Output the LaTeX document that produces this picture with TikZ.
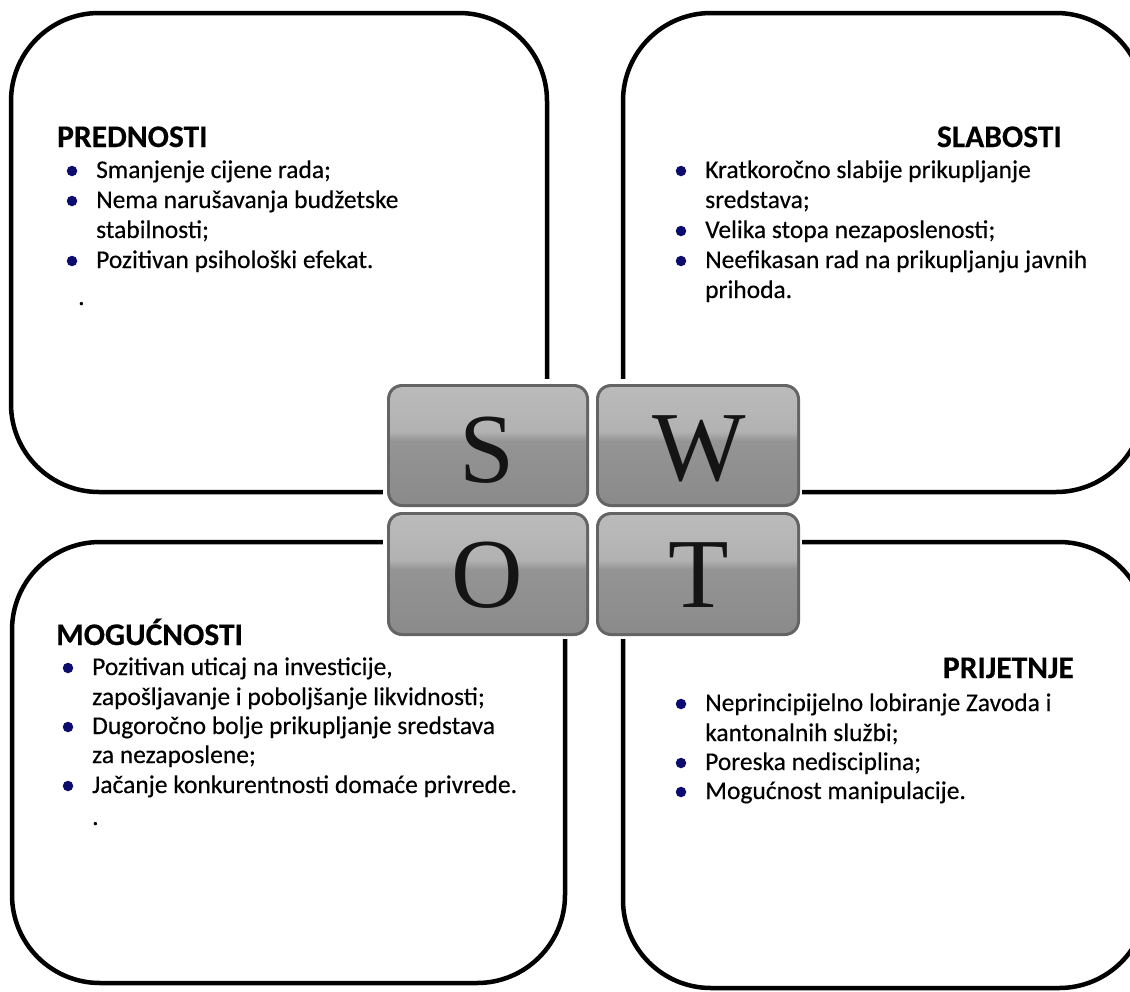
\documentclass[tikz,border=0pt]{standalone}
\usepackage{fontspec}
\newfontfamily\calfont{Carlito}[FakeBold=0.35]
\newfontfamily\calbold{Carlito Bold}[FakeBold=0.3]
\newfontfamily\serifletter{Liberation Serif}
\definecolor{bulletblue}{RGB}{12,12,110}
\definecolor{tileborder}{RGB}{100,100,100}
\definecolor{tbot}{RGB}{172,172,172}
\definecolor{tlow}{RGB}{132,132,132}
\definecolor{tmidlow}{RGB}{148,148,148}
\definecolor{tmidhigh}{RGB}{178,178,178}
\definecolor{tupper}{RGB}{192,192,192}
\definecolor{ttop}{RGB}{222,222,222}
\pgfdeclareverticalshading{tileshade}{100bp}{color(0bp)=(tbot); color(7bp)=(tlow); color(52bp)=(tmidlow); color(56bp)=(tmidhigh); color(86bp)=(tupper); color(100bp)=(ttop)}
\tikzset{
  quad/.style={draw=black, line width=4.5pt, rounded corners=88pt},
  ttl/.style={font=\calbold\fontsize{31.5}{36}\selectfont, inner sep=0pt},
  body/.style={font=\calfont\fontsize{25.5}{30}\selectfont, anchor=base west, inner sep=0pt},
  bul/.style={circle, fill=bulletblue, inner sep=0pt, minimum size=10.5pt},
  tileout/.style={fill=tileborder, rounded corners=15pt},
  tilein/.style={shading=tileshade, rounded corners=12pt},
  letter/.style={font=\serifletter\fontsize{99}{99}\selectfont, text=black!92, anchor=base, inner sep=0pt}
}
\begin{document}
\begin{tikzpicture}[x=1pt,y=-1pt]
\useasboundingbox (0,0) rectangle (1130,991);
\clip (0,0) rectangle (1130,991);
% quadrant frames
\draw[quad] (11,13) rectangle (547,492);
\draw[quad] (623,13) rectangle (1144,492);
\draw[quad] (12,542) rectangle (565,983);
\draw[quad] (623,542) rectangle (1147,988);
% white patch behind the SWOT tiles
\fill[white] (383,379) rectangle (802,639);
% tiles
\fill[tileout] (387,384) rectangle (589,507);
\shade[tilein] (390,387) rectangle (586,504);
\fill[tileout] (596,384) rectangle (800,507);
\shade[tilein] (599,387) rectangle (797,504);
\fill[tileout] (387,512) rectangle (589,636);
\shade[tilein] (390,515) rectangle (586,633);
\fill[tileout] (596,512) rectangle (800,636);
\shade[tilein] (599,515) rectangle (797,633);
\node[letter] (S) at (487,482) {S};
\node[letter] (W) at (699,480) {W};
\node[letter] (O) at (487,607) {O};
\node[letter] (T) at (699,607) {T};
% PREDNOSTI
\node[ttl, anchor=base west] (pt) at (57,147) {PREDNOSTI};
\node[bul] (pb1) at (72,171) {};
\node[body] (p1) at (96,178) {Smanjenje cijene rada;};
\node[bul] (pb2) at (72,201) {};
\node[body] (p2) at (96,208) {Nema narušavanja budžetske};
\node[body] (p2b) at (96,238) {stabilnosti;};
\node[bul] (pb3) at (72,261) {};
\node[body] (p3) at (96,268) {Pozitivan psihološki efekat.};
\node[body] (pd) at (78,305) {.};
% SLABOSTI
\node[ttl, anchor=base east] (st) at (1062,147) {SLABOSTI};
\node[bul] (sb1) at (681,171) {};
\node[body] (s1) at (705,178) {Kratkoročno slabije prikupljanje};
\node[body] (s1b) at (705,208) {sredstava;};
\node[bul] (sb2) at (681,231) {};
\node[body] (s2) at (705,238) {Velika stopa nezaposlenosti;};
\node[bul] (sb3) at (681,261) {};
\node[body] (s3) at (705,268) {Neefikasan rad na prikupljanju javnih};
\node[body] (s3b) at (705,298) {prihoda.};
% MOGUĆNOSTI
\node[ttl, anchor=base west] (mt) at (56,645) {MOGUĆNOSTI};
\node[bul] (mb1) at (68,668) {};
\node[body] (m1) at (92,675) {Pozitivan uticaj na investicije,};
\node[body] (m1b) at (92,705) {zapošljavanje i poboljšanje likvidnosti;};
\node[bul] (mb2) at (68,727) {};
\node[body] (m2) at (92,734) {Dugoročno bolje prikupljanje sredstava};
\node[body] (m2b) at (92,763) {za nezaposlene;};
\node[bul] (mb3) at (68,786) {};
\node[body] (m3) at (92,793) {Jačanje konkurentnosti domaće privrede.};
\node[body] (md) at (92,825) {.};
% PRIJETNJE
\node[ttl, anchor=base east] (rt) at (1074,678) {PRIJETNJE};
\node[bul] (rb1) at (681,704) {};
\node[body] (r1) at (705,711) {Neprincipijelno lobiranje Zavoda i};
\node[body] (r1b) at (705,741) {kantonalnih službi;};
\node[bul] (rb2) at (681,763) {};
\node[body] (r2) at (705,770) {Poreska nedisciplina;};
\node[bul] (rb3) at (681,792) {};
\node[body] (r3) at (705,799) {Mogućnost manipulacije.};
\end{tikzpicture}
\end{document}
